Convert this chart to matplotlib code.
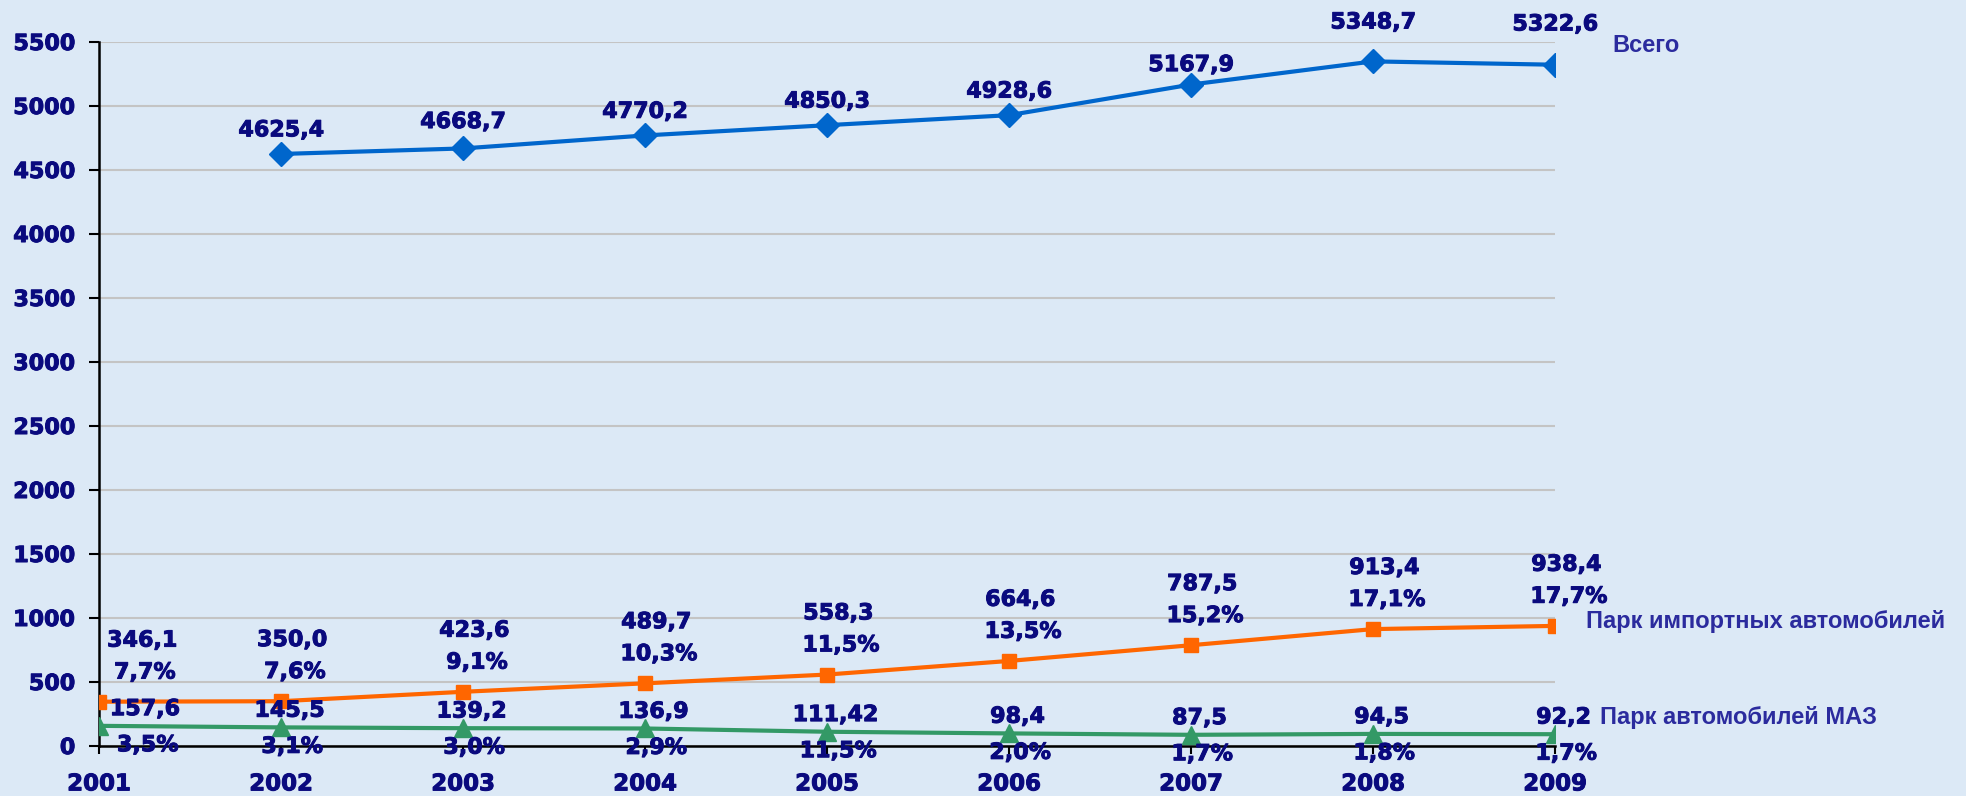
import matplotlib
matplotlib.use("Agg")
import matplotlib.pyplot as plt
import matplotlib.patheffects as pe

# data
years = [2001, 2002, 2003, 2004, 2005, 2006, 2007, 2008, 2009]
total_years = [2002, 2003, 2004, 2005, 2006, 2007, 2008, 2009]
total = [4625.4, 4668.7, 4770.2, 4850.3, 4928.6, 5167.9, 5348.7, 5322.6]
imported = [346.1, 350.0, 423.6, 489.7, 558.3, 664.6, 787.5, 913.4, 938.4]
imported_pct = ["7,7%", "7,6%", "9,1%", "10,3%", "11,5%", "13,5%", "15,2%", "17,1%", "17,7%"]
maz = [157.6, 145.5, 139.2, 136.9, 111.42, 98.4, 87.5, 94.5, 92.2]
maz_pct = ["3,5%", "3,1%", "3,0%", "2,9%", "11,5%", "2,0%", "1,7%", "1,8%", "1,7%"]
y_ticks = list(range(0, 5501, 500))

# label offsets above the blue points (points)
total_dy = [17, 19, 17, 17, 17, 14, 28, 29]

navy = "#0a0a7e"
label_blue = "#2b2b9e"
bg = "#dce9f6"
heavy = [pe.withStroke(linewidth=0.7, foreground=navy)]


def fmt(v):
    s = f"{v:.2f}" if v == 111.42 else f"{v:.1f}"
    return s.replace(".", ",")


fig = plt.figure(figsize=(19.66, 7.96), dpi=100, facecolor=bg)
ax = fig.add_axes([0.0504, 0.0628, 0.7406, 0.8844])
ax.set_facecolor("none")

ax.plot(total_years, total, color="#0066cc", lw=3, marker="D", ms=12, zorder=3)
ax.plot(years, imported, color="#ff6600", lw=3, marker="s", ms=10, zorder=3)
ax.plot(years, maz, color="#339966", lw=3, marker="^", ms=13, zorder=3)

num_font = dict(family="DejaVu Sans", weight="bold", size=16, color=navy,
                path_effects=heavy)

for x, v, dy in zip(total_years, total, total_dy):
    ax.annotate(fmt(v), (x, v), xytext=(0, dy), textcoords="offset points",
                ha="center", va="center", annotation_clip=False, **num_font)

for i, (x, v, p) in enumerate(zip(years, imported, imported_pct)):
    dx = 31 if i == 0 else 8
    ax.annotate(fmt(v), (x, v), xytext=(dx, 44), textcoords="offset points",
                ha="center", va="center", **num_font)
    ax.annotate(p, (x, v), xytext=(dx + 2, 21), textcoords="offset points",
                ha="center", va="center", **num_font)

for i, (x, v, p) in enumerate(zip(years, maz, maz_pct)):
    dx = 33 if i == 0 else 6
    ax.annotate(fmt(v), (x, v), xytext=(dx, 12), textcoords="offset points",
                ha="center", va="center", zorder=4, **num_font)
    ax.annotate(p, (x, v), xytext=(dx + 2, -14), textcoords="offset points",
                ha="center", va="center", zorder=4, annotation_clip=False, **num_font)

# series names next to last points
name_font = dict(family="Liberation Sans", weight="bold", size=17, color=label_blue)
ax.annotate("Всего", (total_years[-1], total[-1]), xytext=(41, 14),
            textcoords="offset points", ha="left", va="center",
            annotation_clip=False, **name_font)
ax.annotate("Парк импортных автомобилей", (years[-1], imported[-1]), xytext=(22, 3),
            textcoords="offset points", ha="left", va="center",
            annotation_clip=False, **name_font)
ax.annotate("Парк автомобилей МАЗ", (years[-1], maz[-1]), xytext=(32, 12),
            textcoords="offset points", ha="left", va="center",
            annotation_clip=False, **name_font)

ax.set_xlim(2001, 2009)
ax.set_ylim(0, 5500)
ax.set_xticks(years)
ax.set_yticks(y_ticks)
ax.yaxis.grid(True, color="#c4c4c4", lw=1.5)
ax.set_axisbelow(True)

for s in ["top", "right"]:
    ax.spines[s].set_visible(False)
for s in ["left", "bottom"]:
    ax.spines[s].set_linewidth(1.8)
    ax.spines[s].set_color("black")
    ax.spines[s].set_zorder(2)

ax.tick_params(axis="y", length=7, width=1.5, pad=10)
ax.tick_params(axis="x", length=6, width=1.5, pad=13)
for lab in ax.get_yticklabels():
    lab.set_fontfamily("DejaVu Sans")
    lab.set_fontweight("bold")
    lab.set_fontsize(16)
    lab.set_color(navy)
    lab.set_path_effects(heavy)
for lab in ax.get_xticklabels():
    lab.set_fontfamily("DejaVu Sans")
    lab.set_fontweight("bold")
    lab.set_fontsize(16.5)
    lab.set_color(navy)
    lab.set_path_effects(heavy)

fig.savefig("out.png", dpi=100, facecolor=bg)
